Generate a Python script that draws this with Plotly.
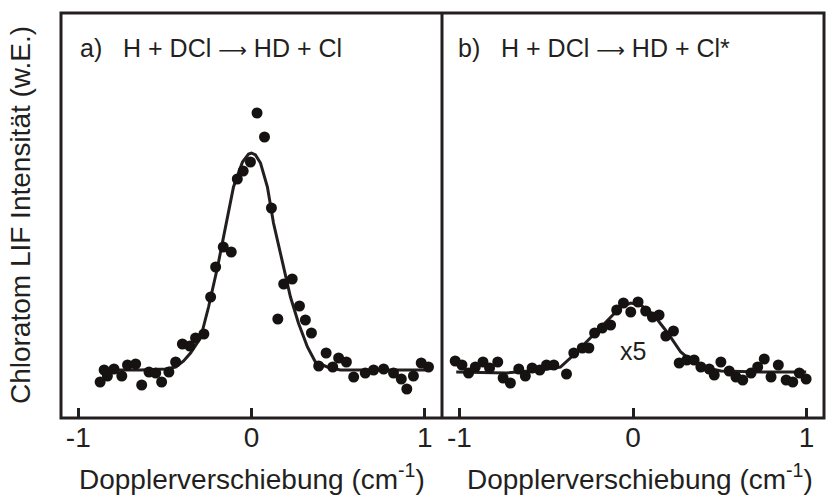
import plotly.graph_objects as go

# Panel a) H + DCl -> HD + Cl : measured points
a_x = [-0.874, -0.832, -0.851, -0.794, -0.749, -0.716, -0.669, -0.634, -0.592, -0.553,
       -0.519, -0.477, -0.438, -0.399, -0.356, -0.323, -0.275, -0.236, -0.207, -0.163,
       -0.117, -0.082, -0.048, -0.006, 0.032, 0.075, 0.115, 0.152, 0.186, 0.235,
       0.277, 0.311, 0.346, 0.388, 0.431, 0.469, 0.503, 0.548, 0.590, 0.657,
       0.705, 0.763, 0.820, 0.865, 0.897, 0.935, 0.980, 1.022]
a_y = [0.36, 0.42, 0.48, 0.49, 0.42, 0.53, 0.54, 0.33, 0.46, 0.45,
       0.36, 0.46, 0.56, 0.74, 0.72, 0.80, 0.84, 1.21, 1.51, 1.71,
       1.66, 2.39, 2.47, 2.56, 3.05, 2.81, 2.10, 0.99, 1.34, 1.39,
       1.12, 0.98, 0.85, 0.52, 0.65, 0.51, 0.60, 0.56, 0.41, 0.45,
       0.48, 0.49, 0.45, 0.39, 0.29, 0.42, 0.55, 0.51]

# Panel a) fit curve (read from picture)
a_fit_x = [-0.876, -0.640, -0.496, -0.438, -0.392, -0.352, -0.294, -0.248, -0.196, -0.150,
           -0.104, -0.052, -0.017, 0.0, 0.023, 0.052, 0.092, 0.127, 0.179, 0.225,
           0.271, 0.323, 0.369, 0.438, 0.513, 0.744, 1.003]
a_fit_y = [0.48, 0.48, 0.49, 0.51, 0.57, 0.65, 0.80, 1.11, 1.51, 1.91,
           2.31, 2.56, 2.64, 2.65, 2.63, 2.55, 2.31, 1.95, 1.55, 1.21,
           0.95, 0.71, 0.56, 0.51, 0.48, 0.48, 0.48]

# Panel b) H + DCl -> HD + Cl* : measured points (x5)
b_x = [-1.024, -0.985, -0.947, -0.908, -0.864, -0.826, -0.779, -0.748, -0.706, -0.658,
       -0.620, -0.581, -0.537, -0.498, -0.456, -0.383, -0.341, -0.292, -0.254, -0.221,
       -0.177, -0.129, -0.094, -0.055, -0.013, 0.029, 0.073, 0.112, 0.150, 0.189,
       0.233, 0.266, 0.310, 0.352, 0.391, 0.439, 0.468, 0.506, 0.554, 0.593,
       0.632, 0.680, 0.718, 0.756, 0.795, 0.837, 0.882, 0.920, 0.958, 0.997]
b_y = [0.57, 0.53, 0.45, 0.51, 0.56, 0.50, 0.56, 0.40, 0.35, 0.49,
       0.42, 0.50, 0.48, 0.53, 0.53, 0.44, 0.65, 0.70, 0.70, 0.85,
       0.90, 0.93, 1.08, 1.15, 1.06, 1.16, 1.07, 1.01, 1.03, 0.82,
       0.87, 0.55, 0.58, 0.58, 0.51, 0.49, 0.43, 0.56, 0.47, 0.41,
       0.38, 0.45, 0.51, 0.59, 0.41, 0.53, 0.38, 0.36, 0.45, 0.39]

b_fit_x = [-1.018, -0.729, -0.533, -0.418, -0.342, -0.244, -0.146, -0.071, -0.013, 0.044,
           0.120, 0.200, 0.275, 0.350, 0.431, 0.506, 0.737, 0.997]
b_fit_y = [0.46, 0.45, 0.48, 0.51, 0.63, 0.80, 0.98, 1.11, 1.15, 1.13,
           1.03, 0.85, 0.66, 0.55, 0.50, 0.47, 0.46, 0.46]

tick_vals = [-1, 0, 1]
tick_text = ["-1", "0", "1"]
x_title = "Dopplerverschiebung (cm<sup>-1</sup>)"
y_title = "Chloratom LIF Intensität (w.E.)"

INK = "#231f20"
FONT = "Arial, Liberation Sans, sans-serif"
ARROW = '<span style="font-family:DejaVu Sans;font-size:20px">\u27f6</span>'

fig = go.Figure()
mk = dict(color="#161212", size=11, symbol="circle")
fig.add_trace(go.Scatter(x=a_fit_x, y=a_fit_y, mode="lines", line=dict(color=INK, width=3),
                         xaxis="x", yaxis="y", showlegend=False))
fig.add_trace(go.Scatter(x=a_x, y=a_y, mode="markers", marker=mk,
                         xaxis="x", yaxis="y", showlegend=False))
fig.add_trace(go.Scatter(x=b_fit_x, y=b_fit_y, mode="lines", line=dict(color=INK, width=3),
                         xaxis="x2", yaxis="y2", showlegend=False))
fig.add_trace(go.Scatter(x=b_x, y=b_y, mode="markers", marker=mk,
                         xaxis="x2", yaxis="y2", showlegend=False))

split = 381 / 763
xcommon = dict(range=[-1.1, 1.1], tickvals=tick_vals, ticktext=tick_text, ticks="inside",
               ticklen=10, tickwidth=3, tickcolor=INK, showgrid=False, zeroline=False,
               showline=False, tickfont=dict(family=FONT, size=28, color=INK))
ycommon = dict(range=[0, 4.05], showticklabels=False, ticks="", showgrid=False,
               zeroline=False, showline=False)

title_y = -0.145
fig.update_layout(
    width=829, height=501,
    margin=dict(l=61, r=5, t=13, b=83),
    paper_bgcolor="white", plot_bgcolor="white",
    xaxis=dict(domain=[0, split], anchor="y", **xcommon),
    xaxis2=dict(domain=[split, 1], anchor="y2", **xcommon),
    yaxis=dict(domain=[0, 1], anchor="x", **ycommon),
    yaxis2=dict(domain=[0, 1], anchor="x2", **ycommon),
    shapes=[
        dict(type="rect", xref="paper", yref="paper", x0=0, x1=1, y0=0, y1=1,
             line=dict(color=INK, width=3)),
        dict(type="line", xref="paper", yref="paper", x0=split, x1=split, y0=0, y1=1,
             line=dict(color=INK, width=3)),
    ],
    annotations=[
        dict(text="a)   H + DCl " + ARROW + " HD + Cl", xref="paper", yref="paper",
             x=0.022, y=0.913, xanchor="left", yanchor="middle", showarrow=False,
             font=dict(family=FONT, size=25, color=INK)),
        dict(text="b)   H + DCl " + ARROW + " HD + Cl*", xref="paper", yref="paper",
             x=split + 0.018, y=0.913, xanchor="left", yanchor="middle", showarrow=False,
             font=dict(family=FONT, size=25, color=INK)),
        dict(text="x5", xref="x2", yref="y2", x=0.0, y=0.67, showarrow=False,
             font=dict(family=FONT, size=25, color=INK)),
        dict(text=x_title, xref="x", yref="paper", x=0.0, y=title_y,
             xanchor="center", yanchor="middle", showarrow=False,
             font=dict(family=FONT, size=28, color=INK)),
        dict(text=x_title, xref="x2", yref="paper", x=0.04, y=title_y,
             xanchor="center", yanchor="middle", showarrow=False,
             font=dict(family=FONT, size=28, color=INK)),
        dict(text=y_title, xref="paper", yref="paper",
             x=-0.053, y=0.5, xanchor="center", yanchor="middle", textangle=-90,
             showarrow=False, font=dict(family=FONT, size=28, color=INK)),
    ],
)

fig.write_html("out.html")
